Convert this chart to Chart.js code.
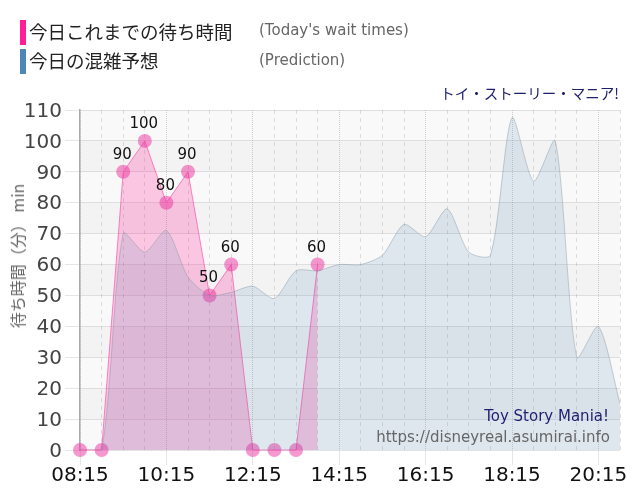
<!DOCTYPE html>
<html><head><meta charset="utf-8">
<script src="https://cdn.jsdelivr.net/npm/chart.js@4"></script>
<style>
html,body{margin:0;padding:0;background:#fff;width:640px;height:500px;overflow:hidden}
#wrap{position:relative;width:640px;height:500px}
canvas{position:absolute;left:0;top:0}
.t{position:absolute;white-space:nowrap;line-height:1}
.jp{font-family:"Noto Sans CJK JP";font-size:18.5px;color:#222}
.en{font-family:"DejaVu Sans",Verdana;font-size:15px;color:#666}
.sw{position:absolute;left:20px;width:6px;height:25px}
</style></head><body>
<div id="wrap">
<canvas id="c" width="640" height="500"></canvas>
<div class="sw" style="top:20px;background:#ff1e96"></div>
<div class="sw" style="top:49px;background:#4f86b8"></div>
<div class="t jp" style="left:29px;top:22px">今日これまでの待ち時間</div>
<div class="t jp" style="left:29px;top:51px">今日の混雑予想</div>
<div class="t en" style="left:259px;top:23px">(Today's wait times)</div>
<div class="t en" style="left:259px;top:53px">(Prediction)</div>
<div class="t" style="right:21px;top:82px;font:14.5px 'Noto Sans CJK JP';color:#1f1f70">トイ・ストーリー・マニア!</div>
<div class="t" style="right:31px;top:407px;font:15px 'DejaVu Sans';color:#1f1f70">Toy Story Mania!</div>
<div class="t" style="right:30px;top:428px;font:15px 'DejaVu Sans';color:#666">https://disneyreal.asumirai.info</div>
<div class="t" style="left:17px;top:256px;transform:translate(-50%,-50%) rotate(-90deg);font:16px 'Noto Sans CJK JP';color:#666">待ち時間（分） min</div>
</div>
<script>
const times = ["08:15","08:45","09:15","09:45","10:15","10:45","11:15","11:45","12:15","12:45","13:15","13:45","14:15","14:45","15:15","15:45","16:15","16:45","17:15","17:45","18:15","18:45","19:15","19:45","20:15","20:45"];
const waitTimes = [0,0,90,100,80,90,50,60,0,0,0,60,null,null,null,null,null,null,null,null,null,null,null,null,null,null];
const prediction = [0,0,70,64,71,56,50,51,53,49,58,58,60,60,63,73,69,78,64,63,107.5,87,100,30,40,15];
const yTicks = [0,10,20,30,40,50,60,70,80,90,100,110];

const bands = {
  id:'bands',
  beforeDraw(ch){
    const {ctx,chartArea:a,scales:{y}} = ch;
    for(let i=0;i<yTicks.length-1;i++){
      const top=y.getPixelForValue(yTicks[i+1]), bot=y.getPixelForValue(yTicks[i]);
      ctx.fillStyle = i%2 ? '#f3f3f3' : '#f9f9f9';
      ctx.fillRect(a.left,top,a.right-a.left,bot-top);
    }
  }
};
const pointLabels = {
  id:'pointLabels',
  afterDatasetsDraw(ch){
    const {ctx} = ch, meta = ch.getDatasetMeta(0);
    ctx.save();
    ctx.font = '15px "DejaVu Sans"';
    ctx.fillStyle = '#111';
    ctx.textAlign = 'center';
    ctx.textBaseline = 'alphabetic';
    waitTimes.forEach((v,i)=>{
      if(v===null||v===0) return;
      const p = meta.data[i];
      ctx.fillText(String(v),p.x-1,p.y-13);
    });
    ctx.restore();
  }
};
new Chart(document.getElementById('c'),{
  type:'line',
  data:{labels:times,datasets:[
    {label:'今日これまでの待ち時間',order:2,data:waitTimes,borderColor:'rgba(255,60,160,0.6)',borderWidth:1,
     backgroundColor:'rgba(255,20,147,0.22)',fill:'origin',tension:0,spanGaps:false,clip:false,
     pointRadius:7,pointHoverRadius:7,pointBackgroundColor:'rgba(235,50,160,0.5)',pointBorderWidth:0},
    {label:'今日の混雑予想',order:1,data:prediction,borderColor:'rgba(130,150,165,0.45)',borderWidth:1,
     backgroundColor:'rgba(70,130,180,0.14)',fill:'origin',tension:0.25,pointRadius:0}
  ]},
  plugins:[bands,pointLabels],
  options:{
    responsive:false,animation:false,
    layout:{padding:{top:110,right:20,bottom:0,left:0}},
    plugins:{legend:{display:false},title:{display:false},tooltip:{enabled:false}},
    scales:{
      x:{
        type:'category',offset:false,
        afterFit(s){s.height=50;s.paddingLeft=0;s.paddingRight=0;},
        grid:{drawOnChartArea:true,drawTicks:true,tickLength:15,tickBorderDash:[],
          color:c=>c.index%4===0?'rgba(170,170,170,0.55)':'rgba(185,185,185,0.45)',
          tickColor:c=>c.index%4===0?'#e6e6e6':'rgba(0,0,0,0)'},
        border:{display:false,dash:c=>c.index%4===0?[1,1]:[4,4]},
        ticks:{autoSkip:false,maxRotation:0,minRotation:0,padding:-1,color:'#111',font:{family:'DejaVu Sans',size:20},
          callback(v,i){return i%4===0?this.getLabelForValue(v):'';}}
      },
      y:{
        min:0,max:110,
        afterBuildTicks(s){s.ticks=yTicks.map(v=>({value:v}));},
        afterFit(s){s.width=80;},
        grid:{color:'rgba(160,160,160,0.6)',tickColor:'#e6e6e6',tickLength:15,tickBorderDash:[]},
        border:{color:'#aaaab4',width:1.5,dash:[1,1]},
        ticks:{padding:3,labelOffset:1.5,color:'#444',font:{family:'DejaVu Sans',size:20}}
      }
    }
  }
});
</script>
</body></html>
